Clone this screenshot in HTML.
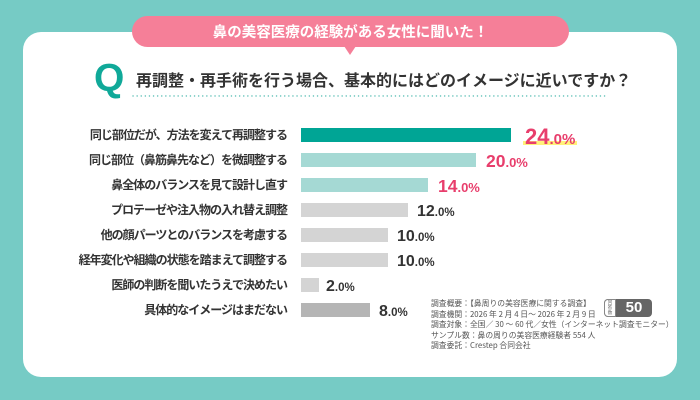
<!DOCTYPE html>
<html><head><meta charset="utf-8">
<style>
*{margin:0;padding:0;box-sizing:border-box}
body{width:700px;height:400px;background:#76cbc5;position:relative;overflow:hidden;font-family:"Liberation Sans","Noto Sans CJK JP",sans-serif}
.card{position:absolute;left:23px;top:32px;width:654px;height:345px;background:#fff;border-radius:18px}
.pill{position:absolute;left:132px;top:16px;width:437px;height:31px;background:#f57f98;border-radius:16px;color:#fff;font-weight:bold;font-size:14.5px;line-height:31px;text-align:center;font-family:"Noto Sans CJK JP",sans-serif;letter-spacing:0px}
.ptr{position:absolute;left:344px;top:46px;width:0;height:0;border-left:6px solid transparent;border-right:6px solid transparent;border-top:9px solid #f57f98}
.q{position:absolute;left:94px;top:54px;font-size:39px;font-weight:bold;color:#10a999;line-height:50px;font-family:"Liberation Sans",sans-serif}
.qt{position:absolute;left:136px;top:68px;font-size:16px;font-weight:bold;color:#333;line-height:22px;font-family:"Noto Sans CJK JP",sans-serif;white-space:nowrap}
.lab{position:absolute;right:413px;font-size:12px;font-weight:bold;color:#333;line-height:16px;white-space:nowrap;letter-spacing:-1px;font-family:"Noto Sans CJK JP",sans-serif}
.bar{position:absolute;left:301px;height:14px}
.val{position:absolute;font-weight:bold;white-space:nowrap;line-height:1;font-family:"Liberation Sans",sans-serif}
.foot{position:absolute;left:431px;top:299px;font-size:7.8px;line-height:10.5px;color:#555;white-space:nowrap;font-family:"Noto Sans CJK JP",sans-serif}
.badge{position:absolute;left:604px;top:299px;width:48px;height:18px;border-radius:4px;background:#666;overflow:hidden}
.badge .l{position:absolute;left:0;top:0;width:12px;height:18px;background:#fff;border:1px solid #888;border-radius:4px 0 0 4px;font-size:4.5px;line-height:5px;color:#666;text-align:center;padding-top:1px;font-family:"Noto Sans CJK JP",sans-serif}
.badge .n{position:absolute;left:12px;top:0;width:36px;height:18px;color:#fff;font-weight:bold;font-size:15px;line-height:18px;text-align:center;font-family:"Liberation Sans",sans-serif}
</style></head><body>
<div class="card"></div>
<div class="pill">鼻の美容医療の経験がある女性に聞いた！</div>
<div class="ptr"></div>
<div class="q">Q</div>
<div class="qt">再調整・再手術を行う場合、基本的にはどのイメージに近いですか？</div>
<svg style="position:absolute;left:0;top:0" width="700" height="400">
<line x1="133" y1="96" x2="607" y2="96" stroke="#5bbfb5" stroke-width="1.4" stroke-dasharray="0.1 4" stroke-linecap="round"/>
<rect x="523" y="141" width="54" height="4" fill="#fff27a"/>
</svg>

<div class="lab" style="top:127px">同じ部位だが、方法を変えて再調整する</div>
<div class="lab" style="top:152px">同じ部位（鼻筋鼻先など）を微調整する</div>
<div class="lab" style="top:177px">鼻全体のバランスを見て設計し直す</div>
<div class="lab" style="top:202px">プロテーゼや注入物の入れ替え調整</div>
<div class="lab" style="top:227px">他の顔パーツとのバランスを考慮する</div>
<div class="lab" style="top:252px">経年変化や組織の状態を踏まえて調整する</div>
<div class="lab" style="top:277px">医師の判断を聞いたうえで決めたい</div>
<div class="lab" style="top:302px">具体的なイメージはまだない</div>

<div class="bar" style="top:128px;width:210px;background:#00a595"></div>
<div class="bar" style="top:153px;width:175px;background:#a5d9d4"></div>
<div class="bar" style="top:178px;width:127px;background:#a5d9d4"></div>
<div class="bar" style="top:203px;width:107px;background:#d4d4d4"></div>
<div class="bar" style="top:228px;width:87px;background:#d4d4d4"></div>
<div class="bar" style="top:253px;width:87px;background:#d4d4d4"></div>
<div class="bar" style="top:278px;width:18px;background:#d4d4d4"></div>
<div class="bar" style="top:303px;width:69px;background:#b5b5b5"></div>

<div class="val" style="left:525px;top:126px;color:#e83e6c"><span style="font-size:22px">24</span><span style="font-size:15px">.0%</span></div>
<div class="val" style="left:486px;top:153px;color:#e83e6c"><span style="font-size:17.5px">20</span><span style="font-size:13px">.0%</span></div>
<div class="val" style="left:438px;top:178px;color:#e83e6c"><span style="font-size:17.5px">14</span><span style="font-size:13px">.0%</span></div>
<div class="val" style="left:417px;top:204px;color:#333"><span style="font-size:16px">12</span><span style="font-size:11.5px">.0%</span></div>
<div class="val" style="left:397px;top:229px;color:#333"><span style="font-size:16px">10</span><span style="font-size:11.5px">.0%</span></div>
<div class="val" style="left:397px;top:254px;color:#333"><span style="font-size:16px">10</span><span style="font-size:11.5px">.0%</span></div>
<div class="val" style="left:326px;top:279px;color:#333"><span style="font-size:16px">2</span><span style="font-size:11.5px">.0%</span></div>
<div class="val" style="left:379px;top:304px;color:#333"><span style="font-size:16px">8</span><span style="font-size:11.5px">.0%</span></div>

<div class="foot">調査概要：【鼻周りの美容医療に関する調査】<br>調査機関：2026 年 2 月 4 日～ 2026 年 2 月 9 日<br>調査対象：全国／ 30 ～ 60 代／女性（インターネット調査モニター）<br>サンプル数：鼻の周りの美容医療経験者 554 人<br>調査委託：Crestep 合同会社</div>
<div class="badge"><div class="l">回<br>答<br>数</div><div class="n">50</div></div>
</body></html>
